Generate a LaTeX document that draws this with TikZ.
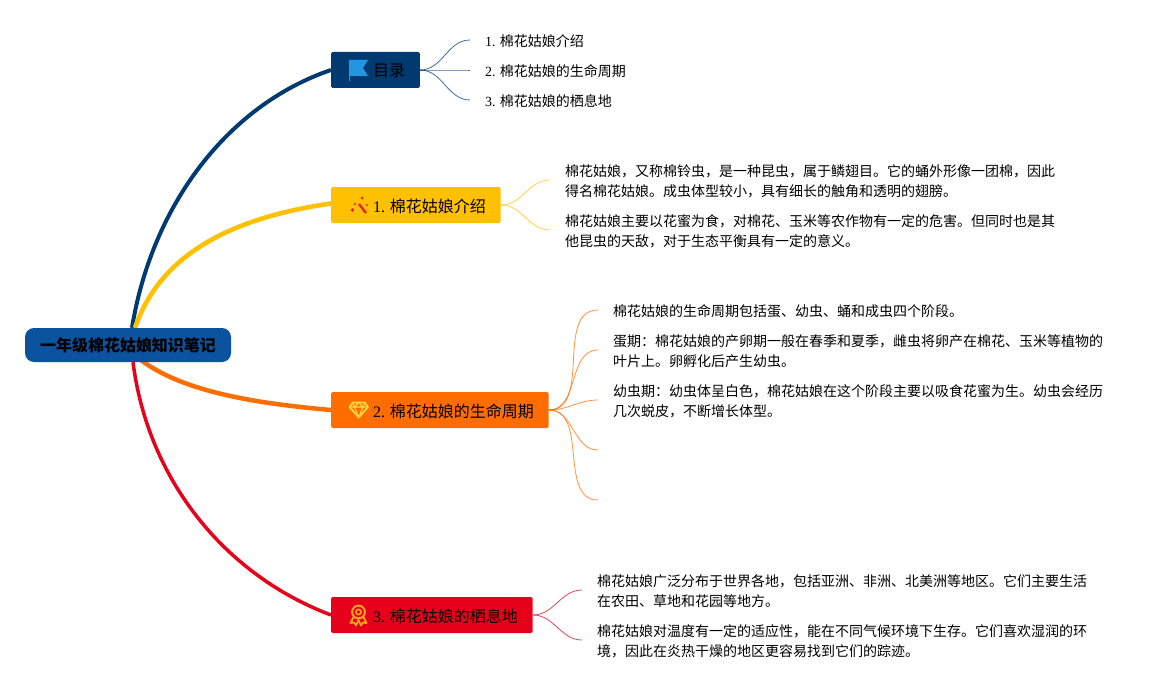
\documentclass[tikz,border=0pt]{standalone}
\usepackage{fontspec}
\setmainfont{Liberation Serif}
\newfontfamily\cjk{Noto Sans CJK SC}
\newfontfamily\numfont{Liberation Serif}
\usetikzlibrary{positioning, backgrounds}
\definecolor{navy}{HTML}{003A70}
\definecolor{amber}{HTML}{FFC000}
\definecolor{tangerine}{HTML}{FF6D00}
\definecolor{crimson}{HTML}{E60019}
\definecolor{rootblue}{HTML}{0B539F}
\definecolor{flagblue}{HTML}{2196E3}
\definecolor{wandred}{HTML}{E8232A}
\definecolor{gemgold}{HTML}{FFD83A}
\definecolor{medalgold}{HTML}{FFA51E}
\tikzstyle{root} = [rectangle, rounded corners=9pt, fill=rootblue, minimum width=206pt, minimum height=34pt, inner sep=0pt, font=\cjk\fontsize{16}{20}\selectfont\bfseries]
\tikzstyle{topic} = [rectangle, rounded corners=1.5pt, anchor=west, minimum height=36pt, inner xsep=14.7pt, inner ysep=0pt, text height=16pt, text depth=2pt, font=\cjk\fontsize{16}{20}\selectfont]
\tikzstyle{leaf} = [rectangle, anchor=west, inner xsep=15pt, inner ysep=0pt, align=left, font=\cjk\fontsize{14}{20}\selectfont]
\tikzstyle{branch} = [line width=4pt]
\tikzstyle{twig} = [line width=0.8pt, opacity=0.75]
\newcommand{\icongap}{\hspace*{27.3pt}}

\begin{document}
\begin{tikzpicture}[x=1pt, y=-1pt]
    \useasboundingbox (0,0) rectangle (1173,690);

    \node (book) [root] at (128,345) {一年级棉花姑娘知识笔记};
    \node (mulu) [topic, fill=navy] at (331,70) {\icongap 目录};
    \node (intro) [topic, fill=amber] at (331,205) {\icongap{\numfont 1.} 棉花姑娘介绍};
    \node (life) [topic, fill=tangerine] at (331,410) {\icongap{\numfont 2.} 棉花姑娘的生命周期};
    \node (habitat) [topic, fill=crimson] at (331,615) {\icongap{\numfont 3.} 棉花姑娘的栖息地};

    % leaves
    \node (muluA) [leaf] at (470,41) {{\numfont 1.} 棉花姑娘介绍};
    \node (muluB) [leaf] at (470,71) {{\numfont 2.} 棉花姑娘的生命周期};
    \node (muluC) [leaf] at (470,101) {{\numfont 3.} 棉花姑娘的栖息地};
    \node (introA) [leaf] at (550,181) {棉花姑娘，又称棉铃虫，是一种昆虫，属于鳞翅目。它的蛹外形像一团棉，因此\\得名棉花姑娘。成虫体型较小，具有细长的触角和透明的翅膀。};
    \node (introB) [leaf] at (550,231) {棉花姑娘主要以花蜜为食，对棉花、玉米等农作物有一定的危害。但同时也是其\\他昆虫的天敌，对于生态平衡具有一定的意义。};
    \node (lifeA) [leaf] at (598,311) {棉花姑娘的生命周期包括蛋、幼虫、蛹和成虫四个阶段。};
    \node (lifeB) [leaf] at (598,351) {蛋期：棉花姑娘的产卵期一般在春季和夏季，雌虫将卵产在棉花、玉米等植物的\\叶片上。卵孵化后产生幼虫。};
    \node (lifeC) [leaf] at (598,401) {幼虫期：幼虫体呈白色，棉花姑娘在这个阶段主要以吸食花蜜为生。幼虫会经历\\几次蜕皮，不断增长体型。};
    \coordinate (lifeD) at (598,450);
    \coordinate (lifeE) at (598,500);
    \node (habitatA) [leaf] at (582,591) {棉花姑娘广泛分布于世界各地，包括亚洲、非洲、北美洲等地区。它们主要生活\\在农田、草地和花园等地方。};
    \node (habitatB) [leaf] at (582,641) {棉花姑娘对温度有一定的适应性，能在不同气候环境下生存。它们喜欢湿润的环\\境，因此在炎热干燥的地区更容易找到它们的踪迹。};

    % main branches
    \begin{scope}[on background layer]
        \draw [branch, navy] ([xshift=4pt]book.north) .. controls (152,205) and (228,105) .. (mulu.west);
        \draw [branch, amber, line width=4.6pt] ([xshift=7pt]book.north) .. controls (160,255) and (230,218) .. ([yshift=1.5pt]intro.west);
        \draw [branch, tangerine, line width=4.5pt] ([xshift=7pt,yshift=7pt]book.south) .. controls (175,390) and (250,403) .. (life.west);
        \draw [branch, crimson, line width=3.5pt] ([xshift=5pt]book.south) .. controls (148,480) and (225,575) .. (habitat.west);
    \end{scope}

    % thin branches
    \foreach \leafname in {muluA, muluB, muluC}
        \draw [twig, navy] (mulu.east) to[out=0, in=180] ([yshift=1pt]\leafname.west);
    \foreach \leafname in {introA, introB}
        \draw [twig, amber] (intro.east) to[out=0, in=180] ([yshift=1pt]\leafname.west);
    \foreach \leafname in {lifeA, lifeB, lifeC}
        \draw [twig, tangerine] (life.east) to[out=0, in=180] ([yshift=1pt]\leafname.west);
    \foreach \leafname in {lifeD, lifeE}
        \draw [twig, tangerine] (life.east) to[out=0, in=180] (\leafname);
    \foreach \leafname in {habitatA, habitatB}
        \draw [twig, crimson] (habitat.east) to[out=0, in=180] ([yshift=1pt]\leafname.west);

    % icons
    \fill [flagblue] (349,60) -- (368,60) -- (363,68) -- (368,76) -- (350,76) -- (350,81) -- (349,81) -- cycle;

    \draw [wandred, line width=2.4pt] (359,204) -- (366,213);
    \fill [wandred] (352.5,210) circle (1.8pt) (355,204) circle (1.1pt) (362,198) circle (1.5pt) (367,205) circle (1.1pt);

    \draw [gemgold, line width=1.8pt, line join=round] (353,402.5) -- (364.5,402.5) -- (368,407) -- (358.7,417.5) -- (349.5,407) -- cycle;
    \draw [gemgold, line width=1.2pt, line join=round] (349.5,407) -- (368,407) (354.5,407) -- (358.7,417.5) -- (363,407) (353,402.5) -- (354.5,407) -- (358.7,402.5) -- (363,407) -- (364.5,402.5);

    \draw [medalgold, line width=2pt] (358.5,612) circle (6.4pt);
    \draw [medalgold, line width=1.6pt] (358.5,612) circle (2.6pt);
    \draw [medalgold, line width=1.8pt, line join=round] (353.5,617) -- (350.5,623) -- (354,622.5) -- (356,625.5) -- (358.5,620) -- (361,625.5) -- (363,622.5) -- (366.5,623) -- (363.5,617);
\end{tikzpicture}
\end{document}
